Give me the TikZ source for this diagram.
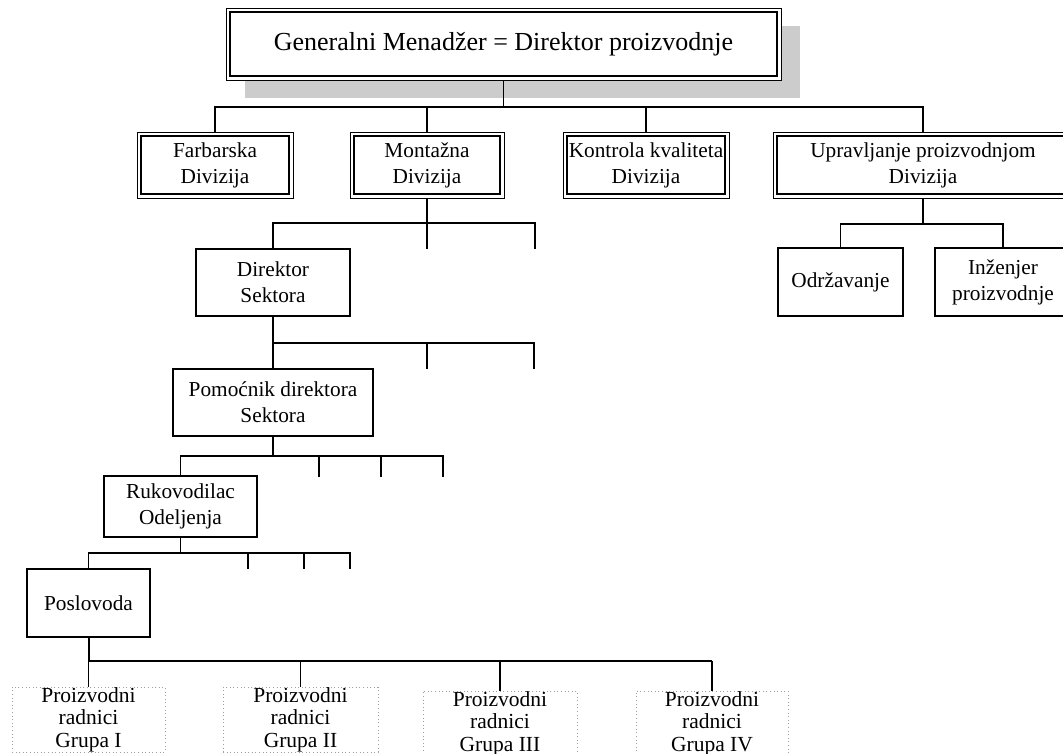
\documentclass[tikz,border=0pt]{standalone}
\usepackage{fontspec}
\setmainfont{Liberation Serif}
\usetikzlibrary{calc,shadows}

\tikzset{
  link/.style={line width=1.2pt},
  busline/.style={line width=2pt},
  unitbox/.style={draw, line width=1.2pt, fill=white, align=center, inner sep=0pt,
    font=\fontsize{21.3}{26}\selectfont},
  divbox/.style={unitbox, line width=0.9pt},
  topbox/.style={divbox, font=\fontsize{26}{30}\selectfont,
    drop shadow={shadow xshift=19pt, shadow yshift=-18pt, fill=gray!40, opacity=1}},
  workerbox/.style={draw=gray!75, dash pattern=on 1pt off 2.6pt, line width=1pt,
    align=center, inner sep=0pt, font=\fontsize{21.5}{22.5}\selectfont},
  size/.style 2 args={minimum width=#1pt, minimum height=#2pt},
}

\begin{document}
\begin{tikzpicture}[x=1pt,y=-1pt]
\useasboundingbox (0,0) rectangle (1063,754);

% top management
\node[topbox, size={555}{72}] (G) at (503.5,44) {Generalni Menadžer = Direktor proizvodnje};

% divisions
\node[divbox, size={156}{66}] (F) at (215,165) {Farbarska\\Divizija};
\node[divbox, size={154}{66}] (M) at (427,165) {Montažna\\Divizija};
\node[divbox, size={166}{66}] (K) at (646,165) {Kontrola kvaliteta\\Divizija};
\node[divbox, size={300}{66}] (U) at (923,165) {Upravljanje proizvodnjom\\Divizija};

% inner frame of the double-bordered boxes
\foreach \n in {G,F,M,K,U}
  \draw[line width=1.7pt] ($(\n.north west)+(4.5,4.5)$) rectangle ($(\n.south east)+(-4.5,-4.5)$);

% line management
\node[unitbox, size={154}{67}] (D) at (273,282.5) {Direktor\\Sektora};
\node[unitbox, size={200}{67}] (P) at (273,402.5) {Pomoćnik direktora\\Sektora};
\node[unitbox, size={153}{61}] (R) at (180.5,506.5) {Rukovodilac\\Odeljenja};
\node[unitbox, size={123}{68}] (L) at (88.5,603) {Poslovoda};

% production management units
\node[unitbox, size={125}{68}] (O) at (840.5,282) {Održavanje};
\node[unitbox, size={136}{68}] (I) at (1003,282) {Inženjer\\proizvodnje};

% worker groups
\node[workerbox, size={153}{65}] (W1) at (88.5,719.5) {Proizvodni\\radnici\\Grupa I};
\node[workerbox, size={155}{65}] (W2) at (300.5,719.5) {Proizvodni\\radnici\\Grupa II};
\node[workerbox, size={154}{65}] (W3) at (500,723.5) {Proizvodni\\radnici\\Grupa III};
\node[workerbox, size={152}{65}] (W4) at (712,723.5) {Proizvodni\\radnici\\Grupa IV};

% bus levels and open branch ends
\coordinate (b1) at (0,107);
\coordinate (b2) at (0,223);
\coordinate (e2) at (535,249);
\coordinate (b3) at (0,343);
\coordinate (e3a) at (427,369);
\coordinate (e3b) at (534,369);
\coordinate (b4) at (0,456);
\coordinate (e4a) at (319,477);
\coordinate (e4b) at (381,477);
\coordinate (e4c) at (443,477);
\coordinate (b5) at (0,553);
\coordinate (e5a) at (248,569);
\coordinate (e5b) at (304,569);
\coordinate (e5c) at (350,569);
\coordinate (b6) at (0,661);
\coordinate (bU) at (0,224);

% general manager to divisions
\draw[link] (G.south) -- (G.south |- b1);
\draw[link] (F.north) -- (F.north |- b1) -- (U.north |- b1) -- (U.north);
\draw[link] (M.north) -- (M.north |- b1);
\draw[link] (K.north) -- (K.north |- b1);

% assembly division to sector director
\draw[link] (M.south) -- (M.south |- e2);
\draw[link] (D.north) -- (D.north |- b2) -| (e2);

% sector director to assistant
\draw[link] (D.south) -- (P.north);
\draw[link] (D.south |- b3) -| (e3b);
\draw[link] (e3a |- b3) -- (e3a);

% assistant to department head
\draw[link] (P.south) -- (P.south |- b4);
\draw[link] (R.north) -- (R.north |- b4) -| (e4c);
\draw[link] (e4a |- b4) -- (e4a);
\draw[link] (e4b |- b4) -- (e4b);

% department head to foreman
\draw[link] (R.south) -- (R.south |- b5);
\draw[link] (L.north) -- (L.north |- b5) -| (e5c);
\draw[link] (e5a |- b5) -- (e5a);
\draw[link] (e5b |- b5) -- (e5b);

% foreman to worker groups
\draw[busline] (L.south) -- (L.south |- b6) -- (W4.north |- b6);
\foreach \w in {W1,W2,W3,W4}
  \draw[link] (\w.north |- b6) -- (\w.north);

% production management subunits
\draw[link] (U.south) -- (U.south |- bU);
\draw[link] (O.north) -- (O.north |- bU) -| (I.north);
\end{tikzpicture}
\end{document}
